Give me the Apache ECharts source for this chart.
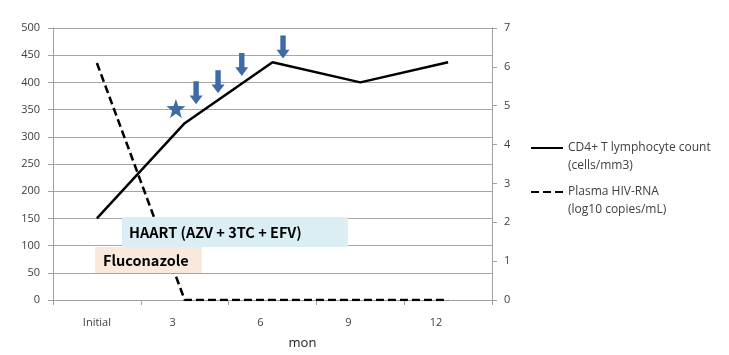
<!DOCTYPE html>
<html>
<head>
<meta charset="utf-8">
<script src="https://cdn.jsdelivr.net/npm/echarts@6/dist/echarts.min.js"></script>
<style>
html,body{margin:0;padding:0;background:#fff;}
#c{width:729px;height:355px;}
</style>
</head>
<body>
<div id="c"></div>
<script>
// ---- data ----
const categories = ['Initial', '3', '6', '9', '12'];
const cd4Values = [150, 325, 437, 400, 437];
const hivValues = [6.1, 0, 0, 0, 0];
const leftTicks = { min: 0, max: 500, interval: 50 };
const rightTicks = { min: 0, max: 7, interval: 1 };
// annotation positions (category-unit x, left-axis y)
const arrowX = [1.63, 1.88, 2.15, 2.62];
const arrowY = [381, 401, 433, 465];
const starX = [1.40];
const starY = [352];
const cd4Name = 'CD4+ T lymphocyte count';
const cd4Unit = '(cells/mm3)';
const hivName = 'Plasma HIV-RNA';
const hivUnit = '(log10 copies/mL)';

const FONT = '"Open Sans", "Noto Sans", sans-serif';
const chart = echarts.init(document.getElementById('c'), null, { renderer: 'canvas' });

const catData = categories.map((c, i) => i === 0 ? { value: c } : { value: c, textStyle: { padding: [0, 24, 0, 0] } });

const ARROW = 'path://M3.5,0 L8.5,0 L8.5,13 L12,13 L6,21 L0,13 L3.5,13 Z';
const STAR = 'path://M10,0 L12.35,6.76 L19.51,6.91 L13.8,11.24 L15.88,18.09 L10,14 L4.12,18.09 L6.2,11.24 L0.49,6.91 L7.65,6.76 Z';

const legendText = {
  fontFamily: FONT, fontSize: 12, color: '#404040', lineHeight: 18
};
const legendCommon = {
  orient: 'vertical',
  left: 530,
  padding: 0,
  itemWidth: 32, itemHeight: 12, itemGap: 0,
  textStyle: legendText,
  itemStyle: { opacity: 0, borderWidth: 0 },
  selectedMode: false
};

chart.setOption({
  animation: false,
  backgroundColor: '#fff',
  grid: { left: 53, right: 237, top: 28, bottom: 54 },
  xAxis: [{
    type: 'category',
    data: catData,
    boundaryGap: true,
    axisLine: { lineStyle: { color: '#a0a0a0', width: 1 } },
    axisTick: { show: true, interval: 0, length: 5, lineStyle: { color: '#a0a0a0' } },
    axisLabel: { interval: 0, margin: 17, fontFamily: FONT, fontSize: 11, color: '#404040' },
    name: 'mon',
    nameLocation: 'middle',
    nameGap: 37,
    nameTextStyle: { fontFamily: FONT, fontSize: 13, color: '#222', padding: [0, 0, 0, 60] }
  }, {
    type: 'value', min: 0, max: 5, show: false
  }],
  yAxis: [{
    type: 'value',
    min: leftTicks.min, max: leftTicks.max, interval: leftTicks.interval,
    axisLine: { show: true, lineStyle: { color: '#a0a0a0' } },
    axisTick: { show: true, length: 5, lineStyle: { color: '#a0a0a0' } },
    axisLabel: { margin: 13, fontFamily: FONT, fontSize: 11, color: '#404040' },
    splitLine: { show: true, lineStyle: { color: '#a6a6a6', width: 1 } }
  }, {
    type: 'value',
    position: 'right',
    min: rightTicks.min, max: rightTicks.max, interval: rightTicks.interval,
    axisLine: { show: true, lineStyle: { color: '#a0a0a0' } },
    axisTick: { show: true, length: 5, lineStyle: { color: '#a0a0a0' } },
    axisLabel: { margin: 12, fontFamily: FONT, fontSize: 11, color: '#404040' },
    splitLine: { show: false }
  }],
  legend: [Object.assign({}, legendCommon, {
    data: [cd4Name],
    top: 121,
    formatter: () => '\n' + cd4Name + '\n' + cd4Unit
  }), Object.assign({}, legendCommon, {
    data: [hivName],
    top: 165,
    formatter: () => '\n' + hivName + '\n' + hivUnit
  })],
  series: [{
    name: cd4Name,
    type: 'line',
    xAxisIndex: 0, yAxisIndex: 0,
    data: cd4Values,
    symbol: 'none',
    lineStyle: { color: '#000', width: 2.5, type: 'solid' },
    itemStyle: { color: '#000' },
    z: 3
  }, {
    name: hivName,
    type: 'line',
    xAxisIndex: 0, yAxisIndex: 1,
    data: hivValues,
    symbol: 'none',
    lineStyle: { color: '#000', width: 2.5, type: [8, 4] },
    itemStyle: { color: '#000' },
    z: 3
  }, {
    type: 'scatter',
    xAxisIndex: 1, yAxisIndex: 0,
    data: arrowX.map((x, i) => [x, arrowY[i]]),
    symbol: ARROW,
    symbolSize: [13, 23],
    itemStyle: { color: '#3e6aa5', opacity: 1 },
    silent: true, z: 4
  }, {
    type: 'scatter',
    xAxisIndex: 1, yAxisIndex: 0,
    data: starX.map((x, i) => [x, starY[i]]),
    symbol: STAR,
    symbolSize: 19,
    itemStyle: { color: '#3e6aa5', opacity: 1 },
    silent: true, z: 4
  }],
  graphic: [{
    type: 'rect', z: 100,
    shape: { x: 122, y: 217, width: 226, height: 30 },
    style: { fill: '#dbeef4' }
  }, {
    type: 'text', z: 101,
    x: 129, y: 232,
    style: { text: 'HAART (AZV + 3TC + EFV)', fontFamily: '"Noto Sans CJK KR", "Noto Sans", sans-serif', fontWeight: 'bold', fontSize: 14.5, fill: '#000', verticalAlign: 'middle', align: 'left' }
  }, {
    type: 'rect', z: 100,
    shape: { x: 95, y: 247, width: 107, height: 26 },
    style: { fill: '#f8e9dc' }
  }, {
    type: 'text', z: 101,
    x: 103, y: 260,
    style: { text: 'Fluconazole', fontFamily: '"Noto Sans CJK KR", "Noto Sans", sans-serif', fontWeight: 'bold', fontSize: 14.5, fill: '#000', verticalAlign: 'middle', align: 'left' }
  }]
});
</script>
</body>
</html>
